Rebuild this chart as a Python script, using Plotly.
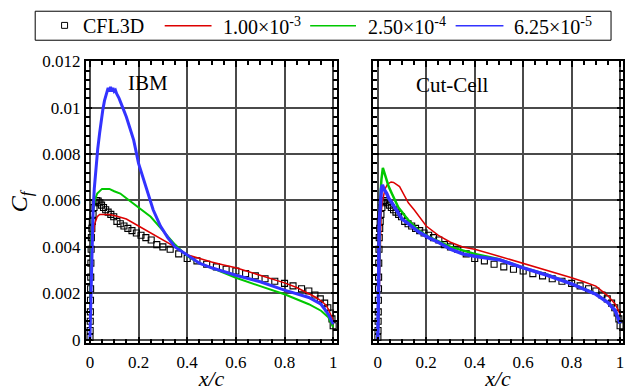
import plotly.graph_objects as go

# ---------------- data ----------------
cfl3d_x = [0.0005, 0.001, 0.0015, 0.002, 0.0025, 0.003, 0.0035, 0.004, 0.005, 0.006, 0.008, 0.01,
           0.013, 0.017, 0.022, 0.028, 0.034, 0.041, 0.048, 0.056, 0.065, 0.075, 0.086, 0.098,
           0.111, 0.125, 0.14, 0.156, 0.173, 0.191, 0.21, 0.23, 0.252, 0.275, 0.3, 0.33, 0.365,
           0.4, 0.44, 0.48, 0.52, 0.56, 0.6, 0.64, 0.68, 0.72, 0.76, 0.8, 0.835, 0.87, 0.9,
           0.925, 0.947, 0.965, 0.978, 0.988, 0.995, 1.0]
cfl3d_cf = [0.0001, 0.0004, 0.0008, 0.0012, 0.0017, 0.0022, 0.0027, 0.0033, 0.0039, 0.0044, 0.0048, 0.0051,
            0.0054, 0.0057, 0.0059, 0.0060, 0.00598, 0.0059, 0.0058, 0.0057, 0.0056, 0.0055, 0.0054, 0.0053,
            0.0051, 0.0050, 0.0049, 0.0048, 0.0047, 0.0046, 0.0045, 0.0044, 0.0043, 0.0041, 0.0040, 0.0039, 0.0037,
            0.0035, 0.0034, 0.00325, 0.00314, 0.00304, 0.00296, 0.00285, 0.00275, 0.00263, 0.00252, 0.00243, 0.00232, 0.0022, 0.0021,
            0.00193, 0.00176, 0.00158, 0.00138, 0.00115, 0.0009, 0.0006]

# IBM panel
ibm_red_x = [0, 0.002, 0.004, 0.007, 0.01, 0.015, 0.02, 0.03, 0.04, 0.06, 0.08, 0.1, 0.15, 0.2, 0.25, 0.3,
             0.35, 0.4, 0.45, 0.5, 0.55, 0.6, 0.65, 0.7, 0.75, 0.8, 0.85, 0.9, 0.93, 0.95, 0.97, 0.98, 0.99, 1.0]
ibm_red_cf = [0, 0.0015, 0.0026, 0.0036, 0.0042, 0.0047, 0.0050, 0.0053, 0.0054, 0.0054, 0.0054, 0.00535, 0.0052,
              0.0049, 0.0046, 0.0043, 0.0040, 0.00366, 0.0035, 0.00335, 0.00322, 0.0031, 0.00294, 0.00278, 0.00262,
              0.00245, 0.00225, 0.0020, 0.00182, 0.00168, 0.0015, 0.00132, 0.0011, 0.00084]

ibm_green_x = [0, 0.002, 0.004, 0.007, 0.01, 0.015, 0.02, 0.03, 0.04, 0.05, 0.06, 0.08, 0.1, 0.125, 0.15, 0.175,
               0.2, 0.25, 0.3, 0.35, 0.4, 0.45, 0.5, 0.6, 0.7, 0.8, 0.9, 0.95, 0.98, 1.0]
ibm_green_cf = [0, 0.002, 0.0033, 0.0045, 0.0052, 0.0057, 0.0060, 0.0063, 0.0064, 0.0065, 0.0065, 0.0065, 0.0064,
                0.0063, 0.0061, 0.0059, 0.0057, 0.0053, 0.0047, 0.0041, 0.0036, 0.0033, 0.0031, 0.00267, 0.00231,
                0.00196, 0.00153, 0.00125, 0.00097, 0.00054]

ibm_blue_x = [0, 0.003, 0.006, 0.009, 0.013, 0.018, 0.025, 0.032, 0.04, 0.046, 0.053, 0.06, 0.065, 0.07, 0.075,
              0.08, 0.085, 0.09, 0.095, 0.1, 0.105, 0.11, 0.12, 0.135, 0.15, 0.165, 0.18, 0.2, 0.23, 0.26, 0.29,
              0.32, 0.35, 0.4, 0.45, 0.5, 0.6, 0.7, 0.8, 0.9, 0.95, 0.98, 1.0]
ibm_blue_cf = [0, 0.0015, 0.003, 0.0044, 0.0055, 0.0065, 0.0075, 0.0082, 0.0089, 0.0094, 0.0099, 0.0103, 0.0105,
               0.01065, 0.01085, 0.0107, 0.0109, 0.0107, 0.01085, 0.0107, 0.01075, 0.0106, 0.0104, 0.0100, 0.0096,
               0.0091, 0.0086, 0.0076, 0.0066, 0.0056, 0.0049, 0.0044, 0.0040, 0.00364, 0.0033, 0.0031, 0.00278,
               0.0025, 0.00214, 0.00182, 0.00153, 0.0011, 0.00068]

# Cut-Cell panel
cc_red_x = [0, 0.004, 0.007, 0.01, 0.014, 0.018, 0.023, 0.03, 0.04, 0.055, 0.065, 0.078, 0.09, 0.1, 0.126, 0.15,
            0.168, 0.2, 0.25, 0.3, 0.35, 0.4, 0.5, 0.6, 0.7, 0.8, 0.85, 0.9, 0.95, 0.98, 1.0]
cc_red_cf = [0, 0.0008, 0.0025, 0.0042, 0.0054, 0.0059, 0.0062, 0.0065, 0.0067, 0.0068, 0.00678, 0.0067, 0.0066,
             0.0064, 0.0059, 0.0056, 0.00536, 0.0049, 0.0045, 0.0042, 0.0040, 0.0039, 0.0036, 0.0033, 0.0030,
             0.00267, 0.0025, 0.00231, 0.00189, 0.00153, 0.0011]

cc_green_x = [0, 0.003, 0.006, 0.01, 0.015, 0.021, 0.03, 0.037, 0.045, 0.058, 0.07, 0.085, 0.1, 0.126, 0.15, 0.168,
              0.209, 0.25, 0.3, 0.35, 0.4, 0.5, 0.6, 0.7, 0.8, 0.9, 0.95, 0.98, 1.0]
cc_green_cf = [0, 0.0015, 0.004, 0.006, 0.0069, 0.0074, 0.0071, 0.00685, 0.0066, 0.0063, 0.0060, 0.0057, 0.0055,
               0.00515, 0.0049, 0.00472, 0.00444, 0.00425, 0.0040, 0.00385, 0.0037, 0.00347, 0.0031, 0.0028,
               0.00242, 0.00198, 0.0016, 0.00126, 0.0007]

cc_blue_x = [0, 0.002, 0.004, 0.006, 0.01, 0.015, 0.019, 0.025, 0.037, 0.045, 0.058, 0.07, 0.085, 0.1, 0.126,
             0.15, 0.168, 0.209, 0.25, 0.3, 0.35, 0.4, 0.5, 0.6, 0.7, 0.8, 0.9, 0.95, 0.98, 1.0]
cc_blue_cf = [0, 0.001, 0.003, 0.005, 0.006, 0.0065, 0.00667, 0.0065, 0.0063, 0.0061, 0.0059, 0.0057, 0.0054,
              0.0052, 0.0050, 0.0048, 0.00465, 0.0044, 0.0042, 0.0039, 0.0037, 0.0036, 0.00345, 0.0031, 0.00278,
              0.00241, 0.00196, 0.0016, 0.00125, 0.0007]

legend_names = ["CFL3D", "1.00×10<sup>-3</sup>", "2.50×10<sup>-4</sup>", "6.25×10<sup>-5</sup>"]
x_ticks = [0, 0.2, 0.4, 0.6, 0.8, 1]
x_ticklabels = ["0", "0.2", "0.4", "0.6", "0.8", "1"]
y_ticks = [0, 0.002, 0.004, 0.006, 0.008, 0.01, 0.012]
y_ticklabels = ["0", "0.002", "0.004", "0.006", "0.008", "0.01", "0.012"]

# ---------------- style ----------------
FONT = "Liberation Serif"
RED, GREEN, BLUE = "#dd0000", "#00c800", "#3333ff"
W, H = 628, 391
ML, MR, MT, MB = 86, 3, 61, 45
PW, PH = W - ML - MR, H - MT - MB


def px(xp):
    return (xp - ML) / PW


def py(yp):
    return (H - MB - yp) / PH


fig = go.Figure()

panels = [
    ("x", "y", ibm_red_x, ibm_red_cf, ibm_green_x, ibm_green_cf, ibm_blue_x, ibm_blue_cf, (1.5, 2.0, 3.0)),
    ("x2", "y2", cc_red_x, cc_red_cf, cc_green_x, cc_green_cf, cc_blue_x, cc_blue_cf, (1.5, 2.5, 3.5)),
]
for xa, ya, rx, ry, gx, gy, bx, by, lw in panels:
    fig.add_trace(go.Scatter(x=cfl3d_x, y=cfl3d_cf, mode="markers", xaxis=xa, yaxis=ya, showlegend=False,
                             marker=dict(symbol="square-open", size=6, color="black", line=dict(width=1.1))))
    fig.add_trace(go.Scatter(x=rx, y=ry, mode="lines", xaxis=xa, yaxis=ya, showlegend=False,
                             line=dict(color=RED, width=lw[0])))
    fig.add_trace(go.Scatter(x=gx, y=gy, mode="lines", xaxis=xa, yaxis=ya, showlegend=False,
                             line=dict(color=GREEN, width=lw[1])))
    fig.add_trace(go.Scatter(x=bx, y=by, mode="lines", xaxis=xa, yaxis=ya, showlegend=False,
                             line=dict(color=BLUE, width=lw[2])))

common_axis = dict(
    showline=True, linecolor="black", linewidth=2, mirror="allticks",
    ticks="inside", ticklen=6, tickwidth=1.5, tickcolor="black",
    showgrid=True, gridcolor="#4a4a4a", gridwidth=1.5, zeroline=False,
    tickfont=dict(family=FONT, size=17, color="black"),
)

xdom1 = [0, px(338)]
xdom2 = [px(374), 1]

fig.update_layout(
    width=W, height=H, margin=dict(l=ML, r=MR, t=MT, b=MB),
    paper_bgcolor="white", plot_bgcolor="white",
    font=dict(family=FONT, color="black"),
    showlegend=False,
    xaxis=dict(domain=xdom1, range=[-0.016, 1.016], tickvals=x_ticks, ticktext=x_ticklabels,
               ticklabelstandoff=3,
               minor=dict(dtick=0.05, tick0=0, ticks="inside", ticklen=4, tickcolor="black", showgrid=False),
               title=dict(text="<i>x/c</i>", font=dict(family=FONT, size=22), standoff=0),
               anchor="y", **common_axis),
    yaxis=dict(domain=[0, 1], range=[-0.00014, 0.01201], tickvals=y_ticks, ticktext=y_ticklabels,
               minor=dict(dtick=0.0004, tick0=0, ticks="inside", ticklen=4, tickcolor="black", showgrid=False),
               title=dict(text="<i>C</i><sub><i>f</i></sub>", font=dict(family=FONT, size=24), standoff=8),
               anchor="x", **common_axis),
    xaxis2=dict(domain=xdom2, range=[-0.02, 1.012], tickvals=x_ticks, ticktext=x_ticklabels,
                ticklabelstandoff=3,
                minor=dict(dtick=0.05, tick0=0, ticks="inside", ticklen=4, tickcolor="black", showgrid=False),
                title=dict(text="<i>x/c</i>", font=dict(family=FONT, size=22), standoff=0),
                anchor="y2", **common_axis),
    yaxis2=dict(domain=[0, 1], range=[-0.00014, 0.01201], tickvals=y_ticks, ticktext=y_ticklabels,
                showticklabels=False,
                minor=dict(dtick=0.0004, tick0=0, ticks="inside", ticklen=4, tickcolor="black", showgrid=False),
                anchor="x2", **common_axis),
)

# panel labels
fig.add_annotation(x=0.238, y=0.01105, xref="x", yref="y", text="IBM", showarrow=False,
                   font=dict(family=FONT, size=21, color="black"))
fig.add_annotation(x=0.308, y=0.01096, xref="x2", yref="y2", text="Cut-Cell", showarrow=False,
                   font=dict(family=FONT, size=21, color="black"))

# ---------------- legend (drawn) ----------------
shapes = []
shapes.append(dict(type="rect", xref="paper", yref="paper", x0=px(35), x1=px(613), y0=py(40), y1=py(10.7),
                   line=dict(color="black", width=1), fillcolor="white", layer="above"))
shapes.append(dict(type="rect", xref="paper", yref="paper", x0=px(61.5), x1=px(67.5), y0=py(28), y1=py(22),
                   line=dict(color="black", width=1), fillcolor="white", layer="above"))
leg_lines = [(165, 212, RED), (311, 357, GREEN), (457, 505, BLUE)]
for x0, x1, c in leg_lines:
    shapes.append(dict(type="line", xref="paper", yref="paper", x0=px(x0), x1=px(x1), y0=py(25.5), y1=py(25.5),
                       line=dict(color=c, width=1.5), layer="above"))
fig.update_layout(shapes=shapes)

leg_text_x = [81, 222, 367, 514]
for name, xl in zip(legend_names, leg_text_x):
    fig.add_annotation(x=px(xl), y=py(25.5), xref="paper", yref="paper", text=name, showarrow=False,
                       xanchor="left", yanchor="middle", font=dict(family=FONT, size=20, color="black"))

fig.write_html("out.html", config={"displayModeBar": False},
               post_script="document.body.style.margin='0';")
